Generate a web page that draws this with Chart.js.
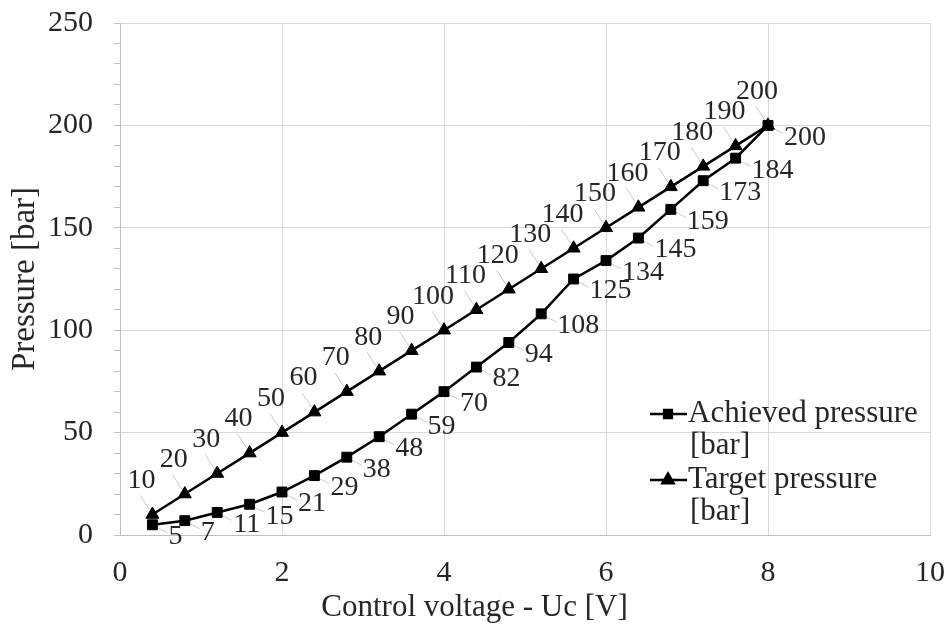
<!DOCTYPE html>
<html><head><meta charset="utf-8">
<script src="https://cdn.jsdelivr.net/npm/chart.js@4/dist/chart.umd.min.js"></script>
<style>html,body{margin:0;background:#fff}#wrap{width:949px;height:630px}</style>
</head><body><div id="wrap"><canvas id="c"></canvas></div>
<script>
const VOLTAGE  = [0.4,0.8,1.2,1.6,2.0,2.4,2.8,3.2,3.6,4.0,4.4,4.8,5.2,5.6,6.0,6.4,6.8,7.2,7.6,8.0];
const ACHIEVED = [5,7,11,15,21,29,38,48,59,70,82,94,108,125,134,145,159,173,184,200];
const TARGET   = [10,20,30,40,50,60,70,80,90,100,110,120,130,140,150,160,170,180,190,200];
const SERIES   = [['Achieved pressure','[bar]'],['Target pressure','[bar]']];
const X_TITLE  = 'Control voltage - Uc [V]';
const Y_TITLE  = 'Pressure [bar]';

const FONT = '"Liberation Serif","Times New Roman",serif';
const TXT = '#262626', GRID = '#d9d9d9', AXIS = '#bfbfbf';

// data labels with little leader lines, Excel style
const pointLabels = {
  id:'pointLabels',
  beforeDatasetsDraw(chart){
    const ctx = chart.ctx;
    ctx.save(); ctx.strokeStyle='#c8c8c8'; ctx.lineWidth=1;
    chart.data.datasets.forEach((ds,i)=>{
      chart.getDatasetMeta(i).data.forEach(p=>{
        ctx.beginPath();
        if(i===0){ctx.moveTo(p.x+5,p.y+3);ctx.lineTo(p.x+15,p.y+8);}
        else{ctx.moveTo(p.x-3,p.y-5);ctx.lineTo(p.x-12,p.y-19);}
        ctx.stroke();
      });
    });
    ctx.restore();
  },
  afterDatasetsDraw(chart){
    const ctx = chart.ctx;
    ctx.save(); ctx.font='28px '+FONT; ctx.fillStyle=TXT; ctx.textBaseline='middle';
    chart.data.datasets.forEach((ds,i)=>{
      chart.getDatasetMeta(i).data.forEach((p,j)=>{
        const t = String(ds.data[j].y);
        if(i===0){ctx.textAlign='left';ctx.fillText(t,p.x+16,p.y+12);}
        else{ctx.textAlign='center';ctx.fillText(t,p.x-11,p.y-34);}
      });
    });
    ctx.restore();
  }
};

// two-line legend inside the plot, lower right, and x title centred on the whole chart
const boxLegend = {
  id:'boxLegend',
  afterDraw(chart){
    const ctx = chart.ctx, a = chart.chartArea;
    const x0 = a.right-280, y0 = a.bottom-121;
    ctx.save(); ctx.font='31px '+FONT; ctx.textAlign='left'; ctx.textBaseline='middle';
    chart.data.datasets.forEach((ds,i)=>{
      const y = y0 + i*66;
      ctx.strokeStyle='#000'; ctx.lineWidth=2.5;
      ctx.beginPath(); ctx.moveTo(x0,y); ctx.lineTo(x0+37,y); ctx.stroke();
      ctx.fillStyle='#000';
      Chart.helpers.drawPoint(ctx,{pointStyle:ds.pointStyle,radius:i===0?5.5:6.5,rotation:0,borderWidth:1},x0+18,y);
      ctx.fillStyle=TXT;
      ctx.fillText(SERIES[i][0],x0+38,y);
      ctx.fillText(SERIES[i][1],x0+40,y+32);
    });
    ctx.textAlign='center';
    ctx.fillText(X_TITLE,chart.width/2,a.bottom+73);
    ctx.restore();
  }
};

new Chart(document.getElementById('c'),{
  type:'line',
  data:{datasets:[
    {label:SERIES[0].join(' '),data:VOLTAGE.map((v,i)=>({x:v,y:ACHIEVED[i]})),borderColor:'#000',backgroundColor:'#000',
     borderWidth:2.5,pointStyle:'rect',pointRadius:7,pointBorderWidth:1},
    {label:SERIES[1].join(' '),data:VOLTAGE.map((v,i)=>({x:v,y:TARGET[i]})),borderColor:'#000',backgroundColor:'#000',
     borderWidth:2.5,pointStyle:'triangle',pointRadius:7.5,pointBorderWidth:1},
  ]},
  options:{responsive:true,maintainAspectRatio:false,animation:false,
    layout:{padding:{top:23,right:19,left:0,bottom:0}},
    plugins:{legend:{display:false},tooltip:{enabled:false}},
    scales:{
      x:{type:'linear',min:0,max:10,
        ticks:{stepSize:2,color:TXT,font:{family:FONT,size:30},padding:20,maxRotation:0},
        grid:{color:GRID,drawTicks:false},border:{color:AXIS},
        afterFit:s=>{s.height=95;s.paddingLeft=0;s.paddingRight=0;}},
      y:{min:0,max:250,
        ticks:{stepSize:10,autoSkip:false,color:TXT,font:{family:FONT,size:30},padding:21,
          callback:v=>v%50===0?v:''},
        grid:{color:c=>c.tick&&c.tick.value%50===0?(c.tick.value===0?AXIS:GRID):'rgba(0,0,0,0)',tickColor:AXIS,tickLength:6},
        border:{color:AXIS},
        title:{display:true,text:Y_TITLE,color:TXT,font:{family:FONT,size:33},padding:{top:6,bottom:0}},
        afterFit:s=>{s.width=120;s.paddingTop=0;s.paddingBottom=0;}}
    }
  },
  plugins:[pointLabels,boxLegend]
});
</script></body></html>
